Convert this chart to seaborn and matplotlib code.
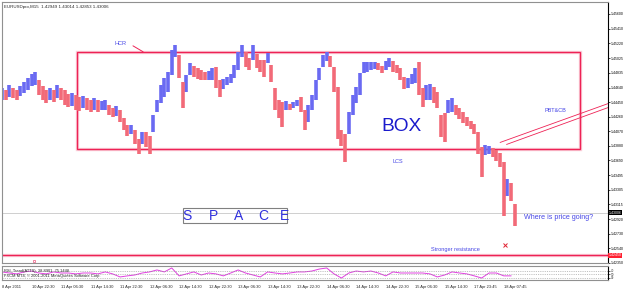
import numpy as np
import pandas as pd
import matplotlib
matplotlib.use("Agg")
import matplotlib.pyplot as plt
import seaborn as sns
from matplotlib.patches import Rectangle

# ── data: EURUSD M15, one sample per 4 bars (high / low of each hour) ────────
STEP = 4
hi = [1.44638, 1.44612, 1.44677, 1.44638, 1.44612, 1.44664, 1.44716, 1.44768, 1.44820, 1.44846,
      1.44742, 1.44664, 1.44612, 1.44638, 1.44612, 1.44677, 1.44638, 1.44612, 1.44560, 1.44573,
      1.44547, 1.44521, 1.44534, 1.44508, 1.44482, 1.44508, 1.44482, 1.44469, 1.44482, 1.44417,
      1.44378, 1.44404, 1.44352, 1.44248, 1.44157, 1.44157, 1.44092, 1.43962, 1.44066, 1.44053,
      1.44001, 1.44287, 1.44482, 1.44677, 1.44768, 1.44846, 1.45132, 1.45197, 1.45067, 1.44716,
      1.44807, 1.44963, 1.44924, 1.44898, 1.44872, 1.44846, 1.44859, 1.44898, 1.44911, 1.44742,
      1.44755, 1.44781, 1.44820, 1.44937, 1.45106, 1.45197, 1.45106, 1.45028, 1.45197, 1.45080,
      1.45002, 1.45002, 1.45093, 1.44937, 1.44638, 1.44482, 1.44456, 1.44469, 1.44430, 1.44456,
      1.44482, 1.44521, 1.44352, 1.44417, 1.44547, 1.44742, 1.44898, 1.45067, 1.45106, 1.45054,
      1.44911, 1.44651, 1.44092, 1.44027, 1.44326, 1.44547, 1.44651, 1.44833, 1.44976, 1.44976,
      1.44976, 1.44976, 1.44963, 1.44924, 1.44989, 1.45028, 1.44989, 1.44937, 1.44898, 1.44781,
      1.44768, 1.44820, 1.44898, 1.44976, 1.44638, 1.44677, 1.44690, 1.44651, 1.44586, 1.44287,
      1.44313, 1.44482, 1.44508, 1.44417, 1.44378, 1.44326, 1.44261, 1.44209, 1.44170, 1.44066,
      1.43858, 1.43884, 1.43871, 1.43845, 1.43819, 1.43780, 1.43663, 1.43442, 1.43390, 1.43117]
lo = [1.44482, 1.44482, 1.44521, 1.44508, 1.44482, 1.44534, 1.44573, 1.44612, 1.44664, 1.44677,
      1.44547, 1.44482, 1.44443, 1.44482, 1.44456, 1.44508, 1.44482, 1.44417, 1.44391, 1.44404,
      1.44352, 1.44339, 1.44378, 1.44352, 1.44326, 1.44352, 1.44326, 1.44352, 1.44352, 1.44287,
      1.44261, 1.44274, 1.44196, 1.44092, 1.44001, 1.44027, 1.43897, 1.43767, 1.43897, 1.43858,
      1.43767, 1.44066, 1.44326, 1.44443, 1.44521, 1.44586, 1.44807, 1.45041, 1.44768, 1.44378,
      1.44586, 1.44807, 1.44781, 1.44755, 1.44742, 1.44742, 1.44742, 1.44742, 1.44638, 1.44521,
      1.44625, 1.44677, 1.44703, 1.44768, 1.44872, 1.45041, 1.44911, 1.44872, 1.45002, 1.44898,
      1.44846, 1.44781, 1.44963, 1.44716, 1.44352, 1.44248, 1.44131, 1.44352, 1.44352, 1.44378,
      1.44404, 1.44326, 1.44092, 1.44196, 1.44352, 1.44482, 1.44742, 1.44911, 1.44989, 1.44911,
      1.44586, 1.43962, 1.43871, 1.43663, 1.44027, 1.44287, 1.44443, 1.44547, 1.44833, 1.44846,
      1.44872, 1.44885, 1.44872, 1.44833, 1.44872, 1.44911, 1.44846, 1.44833, 1.44742, 1.44625,
      1.44638, 1.44690, 1.44703, 1.44547, 1.44391, 1.44482, 1.44482, 1.44443, 1.44378, 1.43988,
      1.43923, 1.44313, 1.44326, 1.44287, 1.44235, 1.44183, 1.44144, 1.44105, 1.44027, 1.43767,
      1.43468, 1.43754, 1.43767, 1.43728, 1.43676, 1.43598, 1.42961, 1.43221, 1.43156, 1.42831]

# RSI sub-window, one sample per 8 bars
RSI_STEP = 8
rsi = [63, 57, 52, 63, 68, 57, 52, 63, 57, 57, 52, 57, 57, 52, 63, 52, 35, 41, 46, 57,
       63, 74, 63, 85, 41, 52, 63, 46, 57, 52, 41, 57, 74, 57, 46, 35, 63, 57, 52, 57,
       63, 63, 68, 79, 85, 52, 29, 57, 68, 63, 68, 57, 41, 63, 57, 57, 57, 57, 52, 35,
       46, 63, 57, 52, 41, 29, 57, 57, 41, 41]
rsi_levels = [70, 50, 30]

price_ticks = [1.45600, 1.45410, 1.45220, 1.45025, 1.44835, 1.44640, 1.44450, 1.44260, 1.44070,
               1.43880, 1.43690, 1.43495, 1.43305, 1.43115, 1.42920, 1.42730, 1.42540, 1.42350]
LABEL_EVERY = 32
time_labels = ["8 Apr 2011", "10 Apr 22:30", "11 Apr 06:30", "11 Apr 14:30", "11 Apr 22:30",
               "12 Apr 06:30", "12 Apr 14:30", "12 Apr 22:30", "13 Apr 06:30", "13 Apr 14:30",
               "13 Apr 22:30", "14 Apr 06:30", "14 Apr 14:30", "14 Apr 22:30", "15 Apr 06:30",
               "15 Apr 14:30", "17 Apr 23:45", "18 Apr 07:45"]

title = "EURUSDpro,M15  1.42949 1.43014 1.42853 1.43006"
last_price = 1.43006
resistance = 1.42450
box_bars = (81, 627)
box_prices = (1.43832, 1.45106)
space_letters = ["S", "P", "A", "C", "E"]
space_bars = [200, 229, 256, 283, 306]

# ── style ────────────────────────────────────────────────────────────────────
sns.set_theme(style="white")
plt.rcParams["font.family"] = ["Liberation Sans", "DejaVu Sans"]

BLUE, RED, BOXRED = "#6a6af2", "#f26a78", "#ee2255"
TEXTBLUE = "#4646e6"

fig = plt.figure(figsize=(6.25, 2.89), dpi=100)
ax = fig.add_axes([2 / 625, 26 / 289, 606 / 625, 261 / 289])
axr = fig.add_axes([2 / 625, 9 / 289, 606 / 625, 14 / 289], sharex=ax)

# ── price bars ───────────────────────────────────────────────────────────────
hi_a, lo_a = np.array(hi), np.array(lo)
xb = np.arange(len(hi_a)) * STEP
mid = (hi_a + lo_a) / 2
up = np.diff(mid, prepend=mid[0]) >= 0
ax.vlines(xb[up], lo_a[up], hi_a[up], color=BLUE, lw=2.6)
ax.vlines(xb[~up], lo_a[~up], hi_a[~up], color=RED, lw=2.6)

ax.set_xlim(0, 657)
ax.set_ylim(1.42363, 1.45756)

# horizontal lines
ax.axhline(last_price, color="#c8c8c8", lw=0.6, zorder=0)
ax.axhline(resistance, color=BOXRED, lw=1.0)
ax.axhline(resistance, color="#f7a0b5", lw=2.4, alpha=0.5, zorder=0)

# the box
for lw, c, a in [(2.4, "#f7a0b5", 0.5), (1.0, BOXRED, 1)]:
    ax.add_patch(Rectangle((box_bars[0], box_prices[0]), box_bars[1] - box_bars[0],
                           box_prices[1] - box_prices[0], fill=False, ec=c, lw=lw, alpha=a))
ax.text(433, 1.44125, "BOX", fontsize=13.8, color="#1a1acc", ha="center", va="center")
ax.text(129, 1.45217, "HCR", fontsize=4, color=TEXTBLUE, ha="center", va="center")
ax.plot([142, 153], [1.45184, 1.45106], color=BOXRED, lw=0.7)
ax.text(429, 1.43670, "LCS", fontsize=4, color=TEXTBLUE, ha="center", va="center")
ax.text(600, 1.44339, "PBT&CB", fontsize=4, color=TEXTBLUE, ha="center", va="center")
ax.plot([540, 657], [1.43923, 1.44430], color=BOXRED, lw=0.6)
ax.plot([547, 657], [1.43897, 1.44378], color=BOXRED, lw=0.6)

# SPACE box
ax.add_patch(Rectangle((196, 1.42870), 113, 0.00195, fill=False, ec="#808080", lw=0.8))
for b, s in zip(space_bars, space_letters):
    ax.text(b, 1.42965, s, fontsize=10, color="#3030dd", ha="center", va="center")

ax.text(603, 1.42945, "Where is price going?", fontsize=5.1, color=TEXTBLUE,
        ha="center", va="center")
ax.text(492, 1.42526, "Stronger resistance", fontsize=4.1, color=TEXTBLUE,
        ha="center", va="center")
ax.plot(545.6, 1.42584, marker="x", color="#e02030", ms=2.5, mew=0.7)
ax.plot(35, 1.42372, marker="s", ms=2, mfc="none", mec="#f07090", mew=0.6, clip_on=False)

ax.text(0.003, 0.988, title, transform=ax.transAxes, fontsize=3.2, va="top", ha="left")

# y axis on the right, MT4 style
ax.yaxis.tick_right()
ax.set_yticks(price_ticks)
ax.set_yticklabels([f"{v:.5f}" for v in price_ticks])
ax.tick_params(axis="y", labelsize=2.5, length=1.5, pad=0.5, width=0.5, colors="black")
ax.tick_params(axis="x", bottom=False, labelbottom=False)
for side in ["left", "top", "bottom"]:
    ax.spines[side].set_color("#909090")
    ax.spines[side].set_linewidth(0.8)
ax.spines["right"].set_color("black")
ax.spines["right"].set_linewidth(0.8)

ytr = ax.get_yaxis_transform()
ax.text(1.001, last_price, "1.43006", transform=ytr, fontsize=2.5, color="white",
        ha="left", va="center", bbox=dict(fc="black", ec="none", pad=0.5), clip_on=False)
ax.text(1.001, resistance, "1.42450", transform=ytr, fontsize=2.5, color="white",
        ha="left", va="center", bbox=dict(fc="#ff2030", ec="none", pad=0.5), clip_on=False)

# ── RSI sub-window ───────────────────────────────────────────────────────────
df_rsi = pd.DataFrame({"bar": np.arange(len(rsi)) * RSI_STEP, "rsi": rsi})
sns.lineplot(data=df_rsi, x="bar", y="rsi", ax=axr, color="#e040e0", lw=0.7)
for lv in rsi_levels:
    axr.axhline(lv, color="#909090", lw=0.4, ls=(0, (2, 2)))
axr.set_ylim(18, 96)
axr.set_xlabel("")
axr.set_ylabel("")
axr.yaxis.tick_right()
axr.set_yticks(rsi_levels)
axr.tick_params(axis="y", labelsize=2.2, length=1.5, pad=0.5, width=0.5)
axr.set_xticks(np.arange(len(time_labels)) * LABEL_EVERY)
axr.set_xticklabels(time_labels)
axr.tick_params(axis="x", labelsize=2.9, length=2, pad=1.5, width=0.5)
for lbl in axr.get_xticklabels():
    lbl.set_ha("left")
for side in ["left", "top", "bottom"]:
    axr.spines[side].set_color("#909090")
    axr.spines[side].set_linewidth(0.8)
axr.spines["right"].set_color("black")
axr.spines["right"].set_linewidth(0.8)
axr.text(0.003, 0.82, "RSI_Trend(ATTS)  38.8901  75.1448", transform=axr.transAxes,
         fontsize=2.9, va="top", ha="left")
axr.text(0.003, 0.42, "FXCM MT4, \u00a9 2001-2011 MetaQuotes Software Corp.",
         transform=axr.transAxes, fontsize=2.9, va="top", ha="left")

fig.savefig("out.png", dpi=100)
